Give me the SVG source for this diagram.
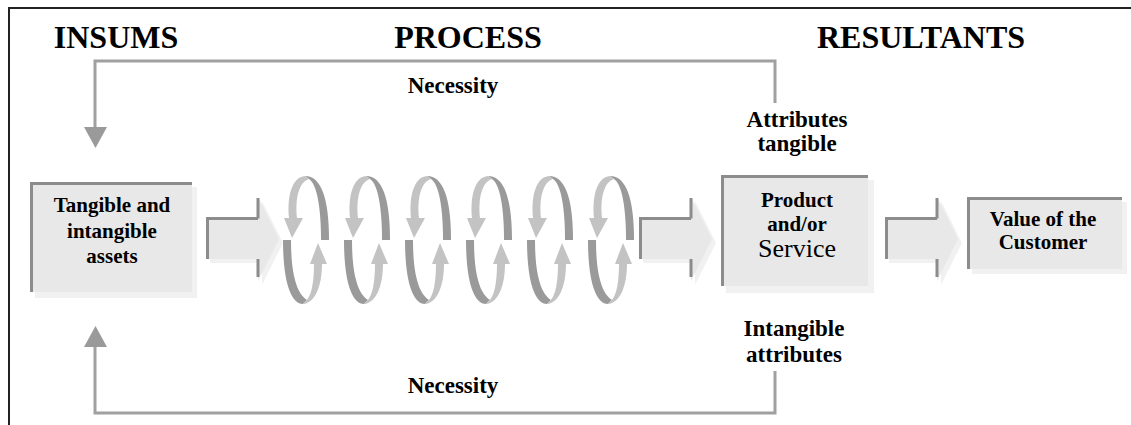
<svg xmlns="http://www.w3.org/2000/svg" width="1131" height="425" viewBox="0 0 1131 425">
<style>
.t{font-family:"Liberation Serif","Times New Roman",serif;font-weight:bold;fill:#000;text-anchor:middle}
.title{font-size:32px}
.lbl{font-size:23px}
.box{font-size:21px}
.reg{font-weight:normal;font-size:26px}
.fill{fill:#e8e8e8}
.shadow{fill:#f1f1f1}
.edge{stroke:#8c8c8c;stroke-width:3;fill:none}
.conn{stroke:#a0a0a0;stroke-width:3;fill:none}
.head{fill:#9a9a9a}
.dark{fill:#9a9a9a}
.light{fill:#c3c3c3}
</style>
<defs>
<g id="loop">
<path class="dark" d="M22 0 C38 0 46 22 46 64 L38 64 C38 32 34 8 26 3 Z"/>
<path class="light" d="M22 0 C9 1 4 20 6 42 L1 42 L9 62 L20 42 L14 42 C12 22 16 6 26 3 Z"/>
<path class="dark" d="M0 64 L8 64 C8 96 13 117 24 124 L20 128 C8 128 0 106 0 64 Z"/>
<path class="light" d="M20 128 C32 127 39 110 39 88 L44 88 L35 67 L27 88 L31 88 C31 108 28 119 24 124 Z"/>
</g>
<g id="barrow">
<polygon class="shadow" points="4,24 56,24 56,4 77,46 56,88 56,66 4,66"/>
<polygon class="fill" points="0,20 52,20 52,0 73,42 52,84 52,62 0,62"/>
<path class="edge" d="M1.5 62 L1.5 21.5 L52 21.5 M52 1 L52 21.5 M52 62 L52 80"/>
</g>
</defs>

<g id="frame">
<path d="M8 8 L1131 8 M9 8 L9 425" stroke="#222" stroke-width="2" fill="none"/>
</g>

<g id="titles">
<text class="t title" x="116" y="48">INSUMS</text>
<text class="t title" x="468" y="48">PROCESS</text>
<text class="t title" x="921" y="48">RESULTANTS</text>
</g>

<g id="connectors">
<path class="conn" d="M775 103 L775 61 L95 61 L95 130"/>
<polygon class="head" points="84,127 107,127 95.5,148"/>
<path class="conn" d="M775 371 L775 413 L95 413 L95 344"/>
<polygon class="head" points="84,347 107,347 95.5,326"/>
<use href="#barrow" x="206" y="197"/>
<use href="#barrow" x="639" y="197"/>
<use href="#barrow" x="885" y="197"/>
</g>

<g id="node-assets">
<rect class="shadow" x="35" y="187" width="162" height="111"/>
<rect class="fill" x="30" y="182" width="162" height="110"/>
<path class="edge" d="M31.5 292 L31.5 183.5 L192 183.5"/>
<text class="t box" x="112" y="212">Tangible and</text>
<text class="t box" x="112" y="238">intangible</text>
<text class="t box" x="112" y="263">assets</text>
</g>

<g id="node-process">
<use href="#loop" x="283" y="176"/>
<use href="#loop" x="344" y="176"/>
<use href="#loop" x="405" y="176"/>
<use href="#loop" x="466" y="176"/>
<use href="#loop" x="527" y="176"/>
<use href="#loop" x="588" y="176"/>
</g>

<g id="node-product">
<rect class="shadow" x="726" y="180" width="148" height="113"/>
<rect class="fill" x="721" y="175" width="147" height="111"/>
<path class="edge" d="M722.5 286 L722.5 176.5 L868 176.5"/>
<text class="t box" x="797" y="207">Product</text>
<text class="t box" x="797" y="231">and/or</text>
<text class="t reg" x="797" y="257">Service</text>
</g>

<g id="node-value">
<rect class="shadow" x="972" y="202" width="155" height="72"/>
<rect class="fill" x="967" y="197" width="155" height="72"/>
<path class="edge" d="M968.5 269 L968.5 198.5 L1122 198.5"/>
<text class="t box" x="1043" y="226">Value of the</text>
<text class="t box" x="1043" y="249">Customer</text>
</g>

<g id="labels">
<text class="t lbl" x="453" y="93">Necessity</text>
<text class="t lbl" x="453" y="393">Necessity</text>
<text class="t lbl" x="797" y="127">Attributes</text>
<text class="t lbl" x="797" y="151">tangible</text>
<text class="t lbl" x="794" y="336">Intangible</text>
<text class="t lbl" x="794" y="362">attributes</text>
</g>
</svg>
